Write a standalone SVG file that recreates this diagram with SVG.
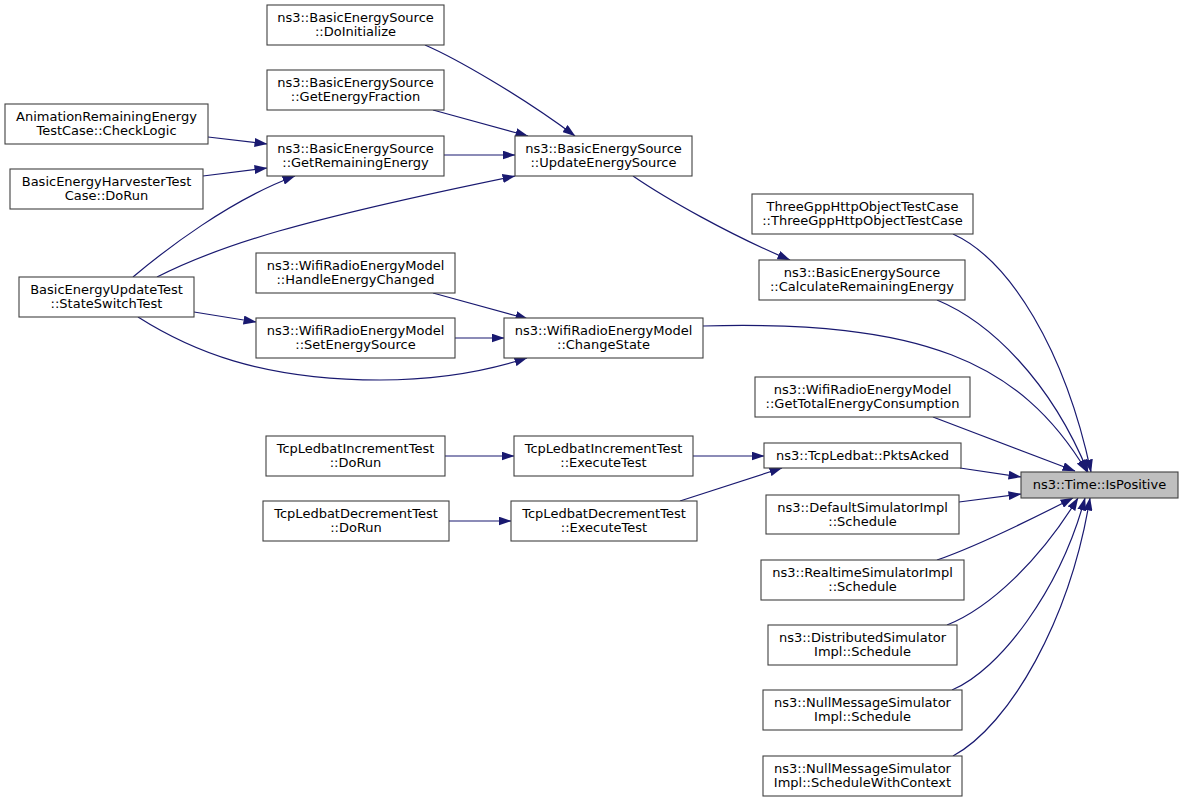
<svg xmlns="http://www.w3.org/2000/svg" width="1184" height="801" viewBox="0 0 1184 801">
<style>
.n rect{fill:#fff;stroke:#404040;stroke-width:1.1}
.n.h rect{fill:#bfbfbf}
.n text{font-family:"DejaVu Sans",sans-serif;font-size:13px;text-anchor:middle;fill:#000}
.e path{fill:none;stroke:#191970;stroke-width:1.2;marker-end:url(#a)}
</style>
<defs>
<marker id="a" viewBox="0 0 13 9" refX="12.5" refY="4.5" markerWidth="13" markerHeight="9" markerUnits="userSpaceOnUse" orient="auto">
<path d="M0,0 L13,4.5 L0,9 z" fill="#191970" stroke="none"/>
</marker>
</defs>
<rect width="1184" height="801" fill="#fff"/>
<g class="e" id="edges">
<path d="M425,45 C455,58 520,95 575,136"/>
<path d="M433,110 L528,136"/>
<path d="M444,155 L515,155"/>
<path d="M157,277 C220,245 300,220 515,176"/>
<path d="M133,277 C165,250 230,200 295,176"/>
<path d="M208,137 L267,144"/>
<path d="M203,176 L267,168"/>
<path d="M633,176 C665,198 730,235 790,260"/>
<path d="M433,293 L528,319"/>
<path d="M455,338 L504,338"/>
<path d="M194,312 L256,322"/>
<path d="M138,317 C190,350 260,380 380,380 C440,380 490,370 527,358"/>
<path d="M703,326 C920,320 1020,360 1087,472"/>
<path d="M953,234 C1010,260 1065,350 1091,472"/>
<path d="M937,300 C990,322 1050,380 1088,472"/>
<path d="M933,417 L1075,471"/>
<path d="M960,468 L1021,477"/>
<path d="M693,456 L764,456"/>
<path d="M680,501 L782,468"/>
<path d="M445,456 L514,456"/>
<path d="M449,521 L511,521"/>
<path d="M959,502 L1021,494"/>
<path d="M937,560 C980,545 1030,520 1073,498"/>
<path d="M947,625 C990,608 1040,560 1078,498"/>
<path d="M952,690 C1000,670 1060,590 1085,498"/>
<path d="M953,756 C1010,725 1070,620 1090,498"/>
</g>
<g class="n" id="n1"><rect x="267" y="5" width="177" height="40"/><text x="355.5" y="21.5">ns3::BasicEnergySource</text><text x="355.5" y="36">::DoInitialize</text></g>
<g class="n" id="n2"><rect x="267" y="70" width="177" height="40"/><text x="355.5" y="86.5">ns3::BasicEnergySource</text><text x="355.5" y="101">::GetEnergyFraction</text></g>
<g class="n" id="n3"><rect x="267" y="136" width="177" height="40"/><text x="355.5" y="152.5">ns3::BasicEnergySource</text><text x="355.5" y="167">::GetRemainingEnergy</text></g>
<g class="n" id="n4"><rect x="5" y="104" width="203" height="40"/><text x="106.5" y="120.5">AnimationRemainingEnergy</text><text x="106.5" y="135">TestCase::CheckLogic</text></g>
<g class="n" id="n5"><rect x="10" y="169" width="193" height="40"/><text x="106.5" y="185.5">BasicEnergyHarvesterTest</text><text x="106.5" y="200">Case::DoRun</text></g>
<g class="n" id="n6"><rect x="515" y="136" width="177" height="40"/><text x="603.5" y="152.5">ns3::BasicEnergySource</text><text x="603.5" y="167">::UpdateEnergySource</text></g>
<g class="n" id="n7"><rect x="19" y="277" width="175" height="40"/><text x="106.5" y="293.5">BasicEnergyUpdateTest</text><text x="106.5" y="308">::StateSwitchTest</text></g>
<g class="n" id="n8"><rect x="256" y="253" width="199" height="40"/><text x="355.5" y="269.5">ns3::WifiRadioEnergyModel</text><text x="355.5" y="284">::HandleEnergyChanged</text></g>
<g class="n" id="n9"><rect x="256" y="318" width="199" height="40"/><text x="355.5" y="334.5">ns3::WifiRadioEnergyModel</text><text x="355.5" y="349">::SetEnergySource</text></g>
<g class="n" id="n10"><rect x="504" y="318" width="199" height="40"/><text x="603.5" y="334.5">ns3::WifiRadioEnergyModel</text><text x="603.5" y="349">::ChangeState</text></g>
<g class="n" id="n11"><rect x="752" y="194" width="221" height="40"/><text x="862.5" y="210.5">ThreeGppHttpObjectTestCase</text><text x="862.5" y="225">::ThreeGppHttpObjectTestCase</text></g>
<g class="n" id="n12"><rect x="759" y="260" width="206" height="40"/><text x="862" y="276.5">ns3::BasicEnergySource</text><text x="862" y="291">::CalculateRemainingEnergy</text></g>
<g class="n" id="n13"><rect x="755" y="377" width="215" height="40"/><text x="862.5" y="393.5">ns3::WifiRadioEnergyModel</text><text x="862.5" y="408">::GetTotalEnergyConsumption</text></g>
<g class="n" id="n14"><rect x="764" y="443" width="197" height="25"/><text x="862.5" y="459.5">ns3::TcpLedbat::PktsAcked</text></g>
<g class="n h" id="n15"><rect x="1021" y="472" width="157" height="26"/><text x="1099.5" y="489">ns3::Time::IsPositive</text></g>
<g class="n" id="n16"><rect x="266" y="436" width="179" height="40"/><text x="355.5" y="452.5">TcpLedbatIncrementTest</text><text x="355.5" y="467">::DoRun</text></g>
<g class="n" id="n17"><rect x="514" y="436" width="179" height="40"/><text x="603.5" y="452.5">TcpLedbatIncrementTest</text><text x="603.5" y="467">::ExecuteTest</text></g>
<g class="n" id="n18"><rect x="263" y="501" width="186" height="40"/><text x="356" y="517.5">TcpLedbatDecrementTest</text><text x="356" y="532">::DoRun</text></g>
<g class="n" id="n19"><rect x="511" y="501" width="186" height="40"/><text x="604" y="517.5">TcpLedbatDecrementTest</text><text x="604" y="532">::ExecuteTest</text></g>
<g class="n" id="n20"><rect x="766" y="495" width="193" height="39"/><text x="862.5" y="511.5">ns3::DefaultSimulatorImpl</text><text x="862.5" y="526">::Schedule</text></g>
<g class="n" id="n21"><rect x="761" y="560" width="203" height="40"/><text x="862.5" y="576.5">ns3::RealtimeSimulatorImpl</text><text x="862.5" y="591">::Schedule</text></g>
<g class="n" id="n22"><rect x="768" y="625" width="189" height="40"/><text x="862.5" y="641.5">ns3::DistributedSimulator</text><text x="862.5" y="656">Impl::Schedule</text></g>
<g class="n" id="n23"><rect x="763" y="690" width="199" height="40"/><text x="862.5" y="706.5">ns3::NullMessageSimulator</text><text x="862.5" y="721">Impl::Schedule</text></g>
<g class="n" id="n24"><rect x="763" y="756" width="199" height="40"/><text x="862.5" y="772.5">ns3::NullMessageSimulator</text><text x="862.5" y="787">Impl::ScheduleWithContext</text></g>
</svg>
